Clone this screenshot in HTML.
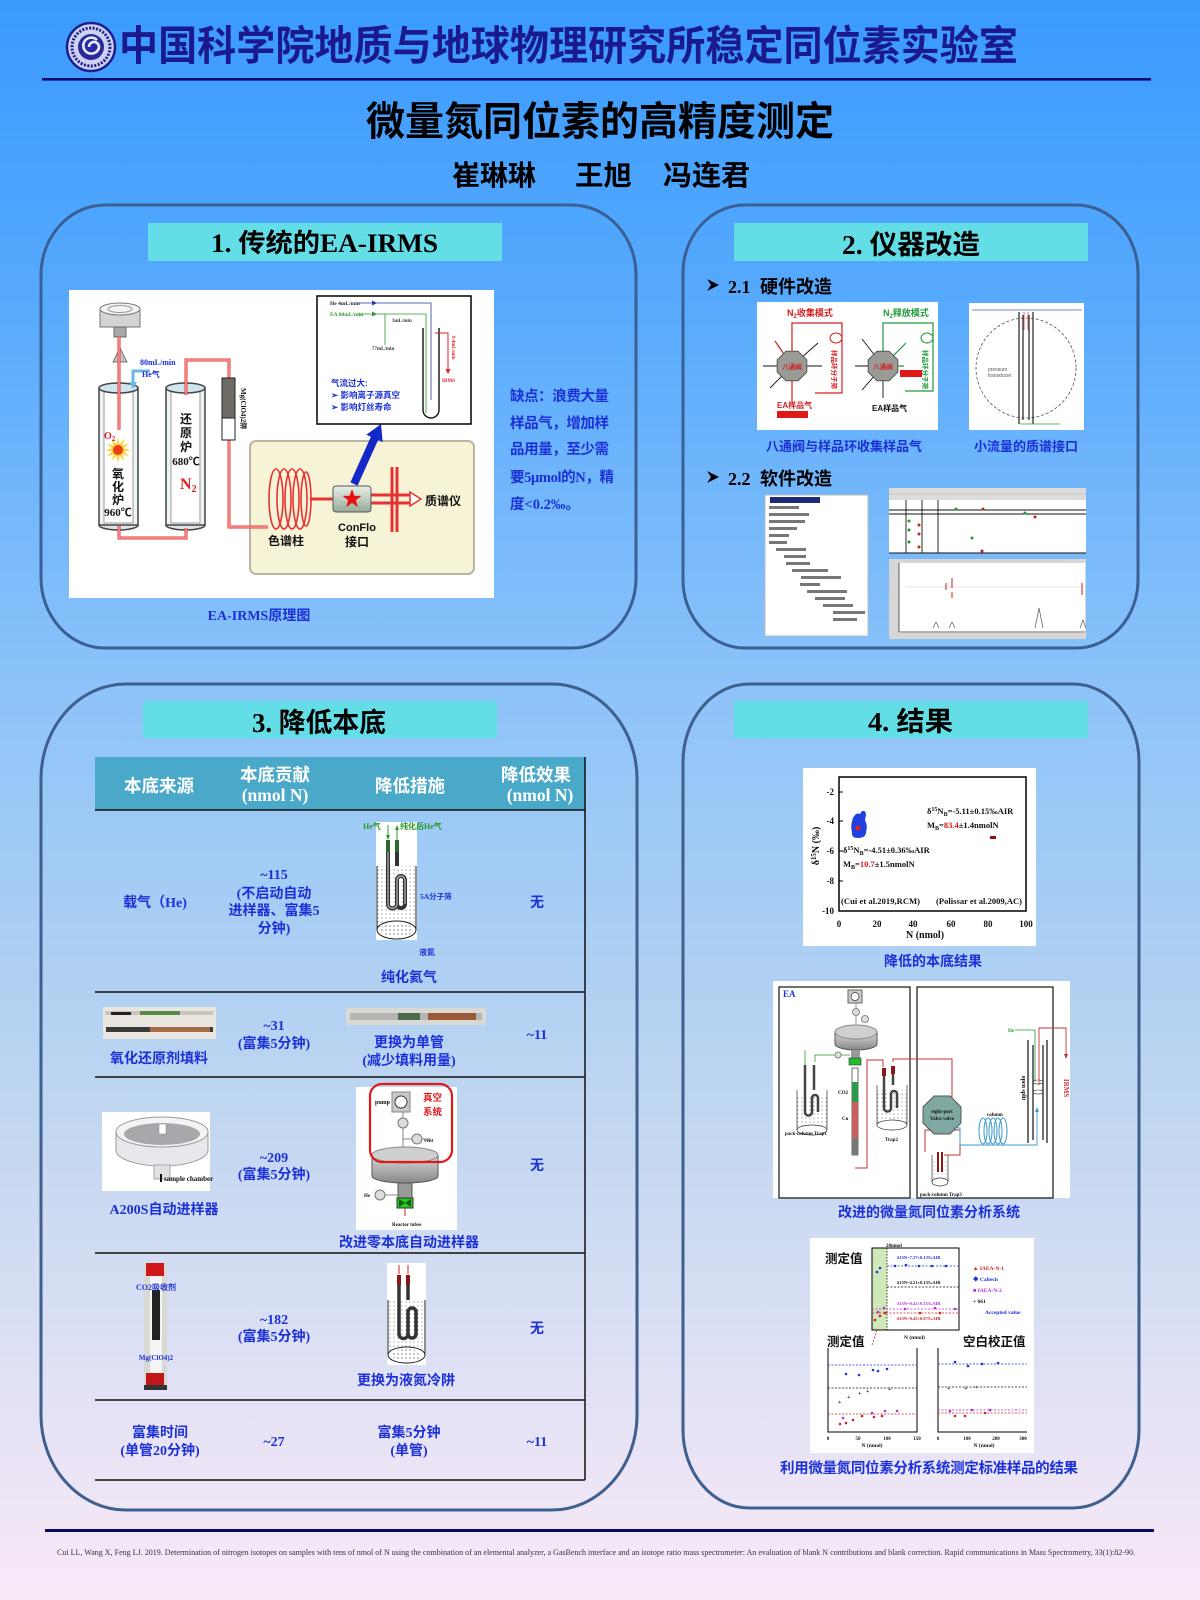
<!DOCTYPE html>
<html><head><meta charset="utf-8">
<style>
html,body{margin:0;padding:0;background:#8fc4f9;}
body{width:1200px;height:1600px;overflow:hidden;}
svg{display:block;}
.cj{font-family:"Liberation Sans","Noto Sans CJK SC",sans-serif;font-weight:700;}
.sr{font-family:"Liberation Serif","Noto Sans CJK SC",serif;font-weight:700;}
.bl{fill:#1c30d8;}
.tb{font-family:"Liberation Serif","Noto Sans CJK SC",serif;font-weight:700;font-size:14px;fill:#1c30d8;text-anchor:middle;}
.th{font-family:"Liberation Serif","Noto Sans CJK SC",serif;font-weight:700;font-size:17.5px;fill:#fff;text-anchor:middle;}
.tiny{font-family:"Liberation Sans",sans-serif;font-size:5px;fill:#555;}
</style></head><body>
<svg width="1200" height="1600" viewBox="0 0 1200 1600" xmlns="http://www.w3.org/2000/svg">
<defs>
<linearGradient id="bg" x1="0" y1="0" x2="0" y2="1">
<stop offset="0" stop-color="#3a9afe"/>
<stop offset="0.19" stop-color="#57aafd"/>
<stop offset="0.44" stop-color="#8fc4f9"/>
<stop offset="0.69" stop-color="#bfd6f0"/>
<stop offset="0.94" stop-color="#efe6f6"/>
<stop offset="1" stop-color="#f9e8f8"/>
</linearGradient>
<linearGradient id="gcf" x1="0" y1="0" x2="0" y2="1">
<stop offset="0" stop-color="#e8efe8"/><stop offset="1" stop-color="#98aa98"/>
</linearGradient>
<linearGradient id="gdisc" x1="0" y1="0" x2="0" y2="1">
<stop offset="0" stop-color="#d8d8d8"/><stop offset="1" stop-color="#888"/>
</linearGradient>
<pattern id="dots" width="4" height="4" patternUnits="userSpaceOnUse"><circle cx="2" cy="2" r="0.6" fill="#333"/></pattern>
</defs>
<rect width="1200" height="1600" fill="url(#bg)"/>

<!-- ===== HEADER ===== -->
<circle cx="91" cy="47" r="24" fill="#cdd2ee" stroke="#1d1d8e" stroke-width="2.5"/>
<circle cx="91" cy="47" r="19" fill="none" stroke="#1d1d8e" stroke-width="3" stroke-dasharray="2 1.5"/>
<circle cx="91" cy="47" r="13" fill="#2a2a9c"/>
<path d="M97,40 A8,8 0 1 0 98,50 A5,5 0 1 0 89,47" fill="none" stroke="#e8ecff" stroke-width="2.6"/>
<text x="119" y="60" class="cj" font-size="41" fill="#1a1a8e" textLength="899" lengthAdjust="spacingAndGlyphs">中国科学院地质与地球物理研究所稳定同位素实验室</text>
<rect x="42" y="78" width="1109" height="2.6" fill="#0c0c6e"/>
<text x="366" y="135" class="cj" font-size="40" fill="#000" textLength="468" lengthAdjust="spacingAndGlyphs">微量氮同位素的高精度测定</text>
<text x="452" y="185" class="cj" font-size="28" fill="#000" textLength="84" lengthAdjust="spacingAndGlyphs">崔琳琳</text>
<text x="575" y="185" class="cj" font-size="28" fill="#000" textLength="57" lengthAdjust="spacingAndGlyphs">王旭</text>
<text x="663" y="185" class="cj" font-size="28" fill="#000" textLength="87" lengthAdjust="spacingAndGlyphs">冯连君</text>

<!-- ===== PANELS ===== -->
<rect x="41" y="205" width="595" height="443" rx="64" ry="70" fill="none" stroke="#3a5f95" stroke-width="3"/>
<rect x="683" y="205" width="455" height="443" rx="62" ry="68" fill="none" stroke="#3a5f95" stroke-width="3"/>
<rect x="41" y="684" width="596" height="826" rx="85" ry="95" fill="none" stroke="#3f5f8f" stroke-width="3"/>
<rect x="683" y="684" width="456" height="824" rx="66" ry="78" fill="none" stroke="#3f5f8f" stroke-width="3"/>

<!-- section bars -->
<rect x="148" y="223" width="354" height="38" fill="#63dde6"/>
<text x="211" y="252" class="sr" font-size="26" fill="#000" textLength="227" lengthAdjust="spacingAndGlyphs">1. 传统的EA-IRMS</text>
<rect x="734" y="223" width="354" height="38" fill="#63dde6"/>
<text x="842" y="254" class="sr" font-size="27" fill="#000" textLength="138" lengthAdjust="spacingAndGlyphs">2. 仪器改造</text>
<rect x="143" y="701" width="354" height="37" fill="#63dde6"/>
<text x="252" y="732" class="sr" font-size="27" fill="#000" textLength="134" lengthAdjust="spacingAndGlyphs">3. 降低本底</text>
<rect x="734" y="701" width="354" height="37" fill="#63dde6"/>
<text x="868" y="731" class="sr" font-size="27" fill="#000" textLength="85" lengthAdjust="spacingAndGlyphs">4. 结果</text>

<!-- ===== PANEL 1: EA-IRMS diagram ===== -->
<rect x="69" y="290" width="425" height="308" fill="#fff"/>
<!-- beige box (drawn first so pipes appear on top) -->
<rect x="250" y="441" width="224" height="133" rx="6" fill="#f7f3d6" stroke="#b8b4a0" stroke-width="2"/>
<!-- autosampler -->
<rect x="100" y="309" width="40" height="18" fill="#d4d4d4" stroke="#777"/>
<ellipse cx="120" cy="309" rx="20" ry="6" fill="#f2f2f2" stroke="#777"/>
<ellipse cx="120" cy="309" rx="12" ry="3.5" fill="none" stroke="#999"/>
<rect x="114" y="327" width="12" height="10" fill="#aaa" stroke="#666"/>
<polygon points="113,362 127,362 120,348" fill="#c4c4c4" stroke="#777"/>
<!-- tubes -->
<ellipse cx="118.5" cy="525" rx="19.5" ry="5" fill="#dde3e8" stroke="#444" stroke-width="1.5"/>
<rect x="99" y="388" width="39" height="137" fill="#eef3f5" stroke="#444" stroke-width="1.5"/>
<rect x="104" y="391" width="29" height="132" fill="#fff" stroke="#999"/>
<ellipse cx="118.5" cy="388" rx="19.5" ry="5" fill="#cfe6ee" stroke="#444" stroke-width="1.5"/>
<ellipse cx="185.5" cy="525" rx="19.5" ry="5" fill="#dde3e8" stroke="#444" stroke-width="1.5"/>
<rect x="166" y="388" width="39" height="137" fill="#eef3f5" stroke="#444" stroke-width="1.5"/>
<rect x="171" y="391" width="29" height="132" fill="#fff" stroke="#999"/>
<ellipse cx="185.5" cy="388" rx="19.5" ry="5" fill="#cfe6ee" stroke="#444" stroke-width="1.5"/>
<!-- red pipes -->
<g fill="none" stroke="#e53333" stroke-width="3">
<path d="M119,337 V430"/>
<path d="M119,526 V538 H186 V528"/>
<path d="M186,395 V360 H229 V378"/>
<path d="M229,440 V527 H268"/>
<path d="M310,499 H333"/>
<path d="M371,495 H410 M371,503 H410 M392,467 V532 M397,467 V532"/>
</g>
<g fill="none" stroke="#ffc8c8" stroke-width="1">
<path d="M119,337 V430"/><path d="M119,526 V538 H186 V528"/><path d="M186,395 V360 H229 V378"/><path d="M229,440 V527 H268"/>
</g>
<polygon points="410,492 421,499 410,506" fill="#fff" stroke="#e53333" stroke-width="1.5"/>
<!-- He inlet -->
<path d="M150,371 H133 V384" fill="none" stroke="#6cb8e8" stroke-width="3"/>
<polygon points="129,382 137,382 133,389" fill="#6cb8e8"/>
<text x="140" y="365" class="sr" font-size="8" fill="#1c30d8">80mL/min</text>
<text x="142" y="377" class="sr" font-size="8" fill="#1c30d8">He气</text>
<!-- explosion -->
<polygon points="131,450 123.8,451.6 129.3,456.5 122.2,454.2 124.5,461.3 119.6,455.8 118,463 116.4,455.8 111.5,461.3 113.8,454.2 106.7,456.5 112.2,451.6 105,450 112.2,448.4 106.7,443.5 113.8,445.8 111.5,438.7 116.4,444.2 118,437 119.6,444.2 124.5,438.7 122.2,445.8 129.3,443.5 123.8,448.4" fill="#ffd23a"/>
<circle cx="118" cy="450" r="5" fill="#e8401c"/>
<text x="104" y="439" class="sr" font-size="10" fill="#e02020">O<tspan font-size="7" dy="2">2</tspan></text>
<g class="cj" font-size="12" fill="#111" text-anchor="middle">
<text x="118" y="478">氧</text><text x="118" y="491">化</text><text x="118" y="504">炉</text>
<text x="186" y="423">还</text><text x="186" y="437">原</text><text x="186" y="451">炉</text>
</g>
<text x="118" y="516" class="sr" font-size="11" fill="#111" text-anchor="middle">960℃</text>
<text x="186" y="465" class="sr" font-size="11" fill="#111" text-anchor="middle">680℃</text>
<text x="180" y="489" class="sr" font-size="16" fill="#e02020">N<tspan font-size="10" dy="3">2</tspan></text>
<!-- water trap -->
<rect x="222" y="378" width="13" height="40" fill="#6e6a64" stroke="#222"/>
<rect x="222" y="418" width="13" height="22" fill="#fff" stroke="#222"/>
<text transform="translate(241,388) rotate(90)" class="sr" font-size="7" fill="#111">Mg(ClO4)2阱</text>
<!-- coil -->
<g fill="none" stroke="#e53333" stroke-width="1.6">
<ellipse cx="276" cy="499" rx="7" ry="30"/><ellipse cx="284" cy="499" rx="7" ry="30"/>
<ellipse cx="292" cy="499" rx="7" ry="30"/><ellipse cx="300" cy="499" rx="7" ry="30"/>
<ellipse cx="306" cy="499" rx="5" ry="27"/>
</g>
<rect x="333" y="486" width="38" height="26" rx="3" fill="url(#gcf)" stroke="#555"/>
<polygon points="352,489 354.4,495.8 361.5,495.9 355.8,500.2 357.9,507.1 352,503 346.1,507.1 348.2,500.2 342.5,495.9 349.6,495.8" fill="#e81010"/>
<text x="425" y="505" class="cj" font-size="12" fill="#111">质谱仪</text>
<text x="286" y="545" class="cj" font-size="12" fill="#111" text-anchor="middle">色谱柱</text>
<text x="357" y="531" class="cj" font-size="11" fill="#111" text-anchor="middle">ConFlo</text>
<text x="357" y="546" class="cj" font-size="12" fill="#111" text-anchor="middle">接口</text>
<polygon points="350.4,482.4 357.6,485.6 378.1,440 382.7,442.1 381,424 366.3,434.7 370.9,436.8" fill="#1428c8"/>
<!-- inset -->
<rect x="317" y="296" width="154" height="128" fill="#fff" stroke="#000" stroke-width="1.5"/>
<text x="330" y="305" class="sr" font-size="5.5" fill="#223">He 4mL/min</text>
<path d="M358,303 H431 V400" fill="none" stroke="#2a3a9a" stroke-width="0.8"/>
<polygon points="372,300.5 377,303 372,305.5" fill="#2a3a9a"/>
<text x="330" y="316" class="sr" font-size="5.5" fill="#2a9a2a">EA 80mL/min</text>
<path d="M358,314 H426 V413 M385,314 V345" fill="none" stroke="#2a9a2a" stroke-width="0.8"/>
<polygon points="372,311.5 377,314 372,316.5" fill="#2a9a2a"/>
<text x="392" y="322" class="sr" font-size="5" fill="#333">3mL/min</text>
<text x="372" y="350" class="sr" font-size="5" fill="#333">77mL/min</text>
<path d="M423,328 V410 A8,8 0 0 0 439,410 V328" fill="none" stroke="#111" stroke-width="1.4"/>
<path d="M435,333 H448 V372" fill="none" stroke="#d22" stroke-width="1"/>
<polygon points="445.5,369 450.5,369 448,374" fill="#d22"/>
<text x="442" y="382" class="sr" font-size="5" fill="#d22">IRMS</text>
<text transform="translate(452,336) rotate(90)" class="sr" font-size="5" fill="#d22">0.4mL/min</text>
<text x="331" y="386" class="cj" font-size="8.5" fill="#1c30d8">气流过大:</text>
<text x="331" y="398" class="cj" font-size="8.5" fill="#1c30d8">➢ 影响离子源真空</text>
<text x="331" y="410" class="cj" font-size="8.5" fill="#1c30d8">➢ 影响灯丝寿命</text>
<text x="259" y="620" class="sr bl" font-size="14" text-anchor="middle">EA-IRMS原理图</text>
<g class="sr bl" font-size="14.5">
<text x="510" y="401" textLength="99">缺点：浪费大量</text>
<text x="510" y="428" textLength="99">样品气，增加样</text>
<text x="510" y="454" textLength="99">品用量，至少需</text>
<text x="510" y="482" textLength="104">要5μmol的N，精</text>
<text x="510" y="509">度&lt;0.2‰。</text>
</g>

<!-- ===== PANEL 2 ===== -->
<polygon points="707,279 719,285 707,291 711,285" fill="#000"/>
<text x="728" y="293" class="sr" font-size="18" fill="#000">2.1</text>
<text x="760" y="293" class="cj" font-size="18" fill="#000" textLength="72">硬件改造</text>
<polygon points="707,471 719,477 707,483 711,477" fill="#000"/>
<text x="728" y="485" class="sr" font-size="18" fill="#000">2.2</text>
<text x="760" y="485" class="cj" font-size="18" fill="#000" textLength="72">软件改造</text>

<!-- image: 8-port valve -->
<rect x="757" y="302" width="181" height="128" fill="#fff"/>
<text x="787" y="316" class="cj" font-size="9" fill="#d42020">N<tspan font-size="6" dy="2">2</tspan><tspan dy="-2">收集模式</tspan></text>
<text x="883" y="316" class="cj" font-size="9" fill="#1e9a3a">N<tspan font-size="6" dy="2">2</tspan><tspan dy="-2">释放模式</tspan></text>
<g stroke="#111" stroke-width="0.9">
<line x1="792" y1="366" x2="763" y2="366"/><line x1="792" y1="366" x2="818" y2="343"/><line x1="792" y1="366" x2="822" y2="366"/><line x1="792" y1="366" x2="770" y2="388"/>
<line x1="883" y1="366" x2="855" y2="366"/><line x1="883" y1="366" x2="862" y2="339"/><line x1="883" y1="366" x2="862" y2="390"/><line x1="883" y1="366" x2="883" y2="398"/>
</g>
<g fill="none" stroke="#d42020" stroke-width="1.2">
<path d="M792,351 V323 H842 V393 H815"/><path d="M792,366 L775,341"/><path d="M792,381 V405"/>
</g>
<g fill="none" stroke="#1e9a3a" stroke-width="1.2">
<path d="M883,351 V323 H933 V391 H905"/><path d="M883,366 L906,343"/><path d="M883,366 L904,366"/>
</g>
<polygon points="806.8,372.1 798.1,380.8 785.9,380.8 777.2,372.1 777.2,359.9 785.9,351.2 798.1,351.2 806.8,359.9" fill="#9a9a96" stroke="#555"/>
<polygon points="897.8,372.1 889.1,380.8 876.9,380.8 868.2,372.1 868.2,359.9 876.9,351.2 889.1,351.2 897.8,359.9" fill="#9a9a96" stroke="#555"/>
<text x="792" y="369" class="cj" font-size="6.5" fill="#d42020" text-anchor="middle">八通阀</text>
<text x="883" y="369" class="cj" font-size="6.5" fill="#d42020" text-anchor="middle">八通阀</text>
<ellipse cx="836" cy="338" rx="6" ry="5" fill="none" stroke="#d42020"/>
<ellipse cx="927" cy="338" rx="6" ry="5" fill="none" stroke="#1e9a3a"/>
<text transform="translate(832,350) rotate(90)" class="cj" font-size="6.5" fill="#d42020">样品环分子筛</text>
<text transform="translate(923,350) rotate(90)" class="cj" font-size="6.5" fill="#1e9a3a">样品环分子筛</text>
<rect x="900" y="370" width="22" height="7" fill="#e01818"/>
<text x="777" y="408" class="cj" font-size="8" fill="#d42020">EA样品气</text>
<rect x="777" y="411" width="31" height="7" fill="#e01818"/>
<text x="872" y="411" class="cj" font-size="8" fill="#111">EA样品气</text>
<!-- image: interface -->
<rect x="969" y="303" width="115" height="127" fill="#fff"/>
<circle cx="1026" cy="368" r="50" fill="none" stroke="#555" stroke-dasharray="3 2" stroke-width="0.8"/>
<line x1="972" y1="310" x2="1082" y2="310" stroke="#4a5ad0" stroke-width="0.8"/>
<g stroke="#222" stroke-width="1.2"><line x1="1019" y1="312" x2="1019" y2="424"/><line x1="1023" y1="315" x2="1023" y2="420"/><line x1="1029" y1="315" x2="1029" y2="420"/><line x1="1033" y1="312" x2="1033" y2="424"/></g>
<path d="M1024,312 V330 M1028,312 V330" stroke="#d44" stroke-width="0.8"/>
<line x1="1020" y1="424" x2="1060" y2="424" stroke="#2a9a2a" stroke-width="0.8"/>
<text x="988" y="371" class="tiny" fill="#c33">pressure</text>
<text x="988" y="377" class="tiny" fill="#c33">transducer</text>
<text x="844" y="451" class="cj bl" font-size="13" text-anchor="middle">八通阀与样品环收集样品气</text>
<text x="1026" y="451" class="cj bl" font-size="13" text-anchor="middle">小流量的质谱接口</text>
<!-- software tree -->
<rect x="765" y="495" width="103" height="141" fill="#fff" stroke="#bbb"/>
<rect x="770" y="497" width="50" height="6" fill="#1e2a78"/>
<g fill="#777">
<rect x="769" y="506" width="30" height="3"/><rect x="769" y="513" width="40" height="3"/><rect x="769" y="520" width="36" height="3"/><rect x="769" y="527" width="28" height="3"/><rect x="769" y="534" width="20" height="3"/><rect x="769" y="541" width="18" height="3"/>
<rect x="776" y="548" width="30" height="3"/><rect x="784" y="555" width="22" height="3"/><rect x="786" y="562" width="24" height="3"/><rect x="792" y="569" width="36" height="3"/><rect x="801" y="576" width="40" height="3"/><rect x="800" y="583" width="20" height="3"/><rect x="807" y="590" width="40" height="3"/><rect x="815" y="597" width="30" height="3"/><rect x="823" y="604" width="30" height="3"/><rect x="833" y="611" width="32" height="3"/><rect x="833" y="618" width="24" height="3"/>
</g>
<!-- chart 1 -->
<rect x="889" y="488" width="197" height="65" fill="#fff"/>
<rect x="889" y="488" width="197" height="12" fill="#dcdcdc"/>
<line x1="889" y1="494" x2="1086" y2="494" stroke="#aaa" stroke-width="0.6"/>
<g stroke="#111" stroke-width="0.9"><line x1="889" y1="510" x2="1086" y2="510"/><line x1="889" y1="514" x2="1086" y2="514"/><line x1="906" y1="500" x2="906" y2="553"/><line x1="922" y1="500" x2="922" y2="553"/><line x1="938" y1="500" x2="938" y2="553"/><line x1="889" y1="553" x2="1086" y2="553"/></g>
<g fill="#1e9a3a"><circle cx="956" cy="509" r="1.5"/><circle cx="1025" cy="513" r="1.5"/><circle cx="909" cy="521" r="1.5"/><circle cx="909" cy="530" r="1.5"/><circle cx="909" cy="542" r="1.5"/><circle cx="972" cy="538" r="1.5"/></g>
<g fill="#c02020"><circle cx="983" cy="509" r="1.5"/><circle cx="1035" cy="517" r="1.5"/><circle cx="919" cy="525" r="1.5"/><circle cx="919" cy="534" r="1.5"/><circle cx="919" cy="547" r="1.5"/><circle cx="982" cy="551" r="1.5"/></g>
<!-- chart 2 -->
<rect x="889" y="559" width="197" height="80" fill="#d6d6d6"/>
<rect x="899" y="563" width="186" height="70" fill="#fff"/>
<line x1="899" y1="632" x2="1085" y2="632" stroke="#333" stroke-width="0.8"/>
<line x1="899" y1="563" x2="899" y2="632" stroke="#333" stroke-width="0.8"/>
<line x1="905" y1="587" x2="1084" y2="587" stroke="#f0b8b8" stroke-width="0.6"/>
<g stroke="#c02020" stroke-width="1"><line x1="946" y1="583" x2="946" y2="590"/><line x1="952" y1="578" x2="952" y2="588"/><line x1="952" y1="592" x2="952" y2="598"/><line x1="1082" y1="583" x2="1082" y2="595"/></g>
<path d="M1035,628 L1039,608 L1043,628" fill="none" stroke="#555" stroke-width="0.7"/>
<path d="M933,628 L936,622 L939,628 M949,628 L952,622 L955,628 M1080,628 L1083,620 L1086,628" fill="none" stroke="#555" stroke-width="0.7"/>

<!-- ===== PANEL 3: TABLE ===== -->
<rect x="95" y="757" width="490" height="53" fill="#4aa9c9"/>
<text x="159" y="792" class="th">本底来源</text>
<text x="275" y="781" class="th">本底贡献</text>
<text x="275" y="801" class="th">(nmol N)</text>
<text x="410" y="792" class="th">降低措施</text>
<text x="536" y="781" class="th">降低效果</text>
<text x="540" y="801" class="th">(nmol N)</text>
<g stroke="#111" stroke-width="1.5">
<line x1="95" y1="810" x2="585" y2="810"/><line x1="95" y1="992" x2="585" y2="992"/><line x1="95" y1="1077" x2="585" y2="1077"/>
<line x1="95" y1="1253" x2="585" y2="1253"/><line x1="95" y1="1400" x2="585" y2="1400"/><line x1="95" y1="1480" x2="585" y2="1480"/>
<line x1="585" y1="757" x2="585" y2="1480"/>
</g>
<!-- row 1 -->
<text x="155" y="907" class="tb">载气（He)</text>
<text x="274" y="879" class="tb">~115</text>
<text x="274" y="898" class="tb">(不启动自动</text>
<text x="274" y="915" class="tb">进样器、富集5</text>
<text x="274" y="933" class="tb">分钟)</text>
<text x="537" y="907" class="tb">无</text>
<rect x="376" y="822" width="41" height="118" fill="#fff"/>
<rect x="377" y="866" width="39" height="64" fill="url(#dots)" opacity="0.6"/>
<line x1="377" y1="866" x2="377" y2="930" stroke="#222"/><line x1="416" y1="866" x2="416" y2="930" stroke="#222"/>
<ellipse cx="396.5" cy="930" rx="19.5" ry="9" fill="#fff" stroke="#222"/>
<ellipse cx="396.5" cy="930" rx="17" ry="7" fill="url(#dots)"/>
<path d="M388,842 V904 A4.5,4.5 0 0 0 397,904 V880 A4,4 0 0 1 405,880 V904 A4,4 0 0 1 397,904 M397,842 V866" fill="none" stroke="#333" stroke-width="4"/>
<path d="M388,842 V904 A4.5,4.5 0 0 0 397,904 V880 A4,4 0 0 1 405,880 V904" fill="none" stroke="#bbb" stroke-width="1.2"/>
<rect x="386" y="840" width="4" height="12" fill="#2a6a2a"/><rect x="395" y="840" width="4" height="12" fill="#2a6a2a"/>
<line x1="388" y1="825" x2="388" y2="838" stroke="#2a9a2a"/><polygon points="386,835 390,835 388,840" fill="#2a9a2a"/>
<line x1="397" y1="840" x2="397" y2="828" stroke="#2a9a2a"/><polygon points="395,830 399,830 397,825" fill="#2a9a2a"/>
<text x="363" y="829" class="sr" font-size="8" fill="#2a9a2a">He气</text>
<text x="400" y="829" class="sr" font-size="8" fill="#2a9a2a">纯化后He气</text>
<text x="420" y="899" class="sr" font-size="7.5" fill="#1c30d8">5A分子筛</text>
<text x="419" y="955" class="sr" font-size="8" fill="#1c30d8">液氮</text>
<text x="409" y="982" class="tb">纯化氦气</text>
<!-- row 2 -->
<rect x="103" y="1007" width="113" height="32" fill="#e9e6df"/>
<rect x="105" y="1011" width="108" height="4" fill="#c8c4bc"/>
<rect x="111" y="1012" width="20" height="3" fill="#222"/><rect x="140" y="1011" width="40" height="4" fill="#5a8a4a"/>
<rect x="106" y="1027" width="107" height="5" fill="#3a3a38"/><rect x="150" y="1027" width="60" height="5" fill="#a46a4a"/>
<text x="159" y="1063" class="tb">氧化还原剂填料</text>
<text x="274" y="1030" class="tb">~31</text>
<text x="274" y="1048" class="tb">(富集5分钟)</text>
<rect x="346" y="1008" width="140" height="17" fill="#d8d8d4"/>
<rect x="350" y="1013" width="132" height="7" fill="#b4b4b0"/>
<rect x="398" y="1013" width="22" height="7" fill="#4a6a4a"/><rect x="428" y="1013" width="48" height="7" fill="#9a5a3a"/>
<text x="409" y="1047" class="tb">更换为单管</text>
<text x="409" y="1065" class="tb">(减少填料用量)</text>
<text x="537" y="1039" class="tb">~11</text>
<!-- row 3 -->
<rect x="102" y="1112" width="108" height="79" fill="#fff"/>
<path d="M116,1132 V1150 A46,16 0 0 0 208,1150 V1132" fill="#e8e8ec" stroke="#999"/>
<ellipse cx="162" cy="1132" rx="46" ry="15" fill="#f4f4f6" stroke="#999"/>
<ellipse cx="162" cy="1134" rx="38" ry="11" fill="#a8a8ac"/>
<rect x="159" y="1124" width="7" height="10" fill="#fff" stroke="#888" stroke-width="0.5"/>
<rect x="154" y="1165" width="16" height="14" fill="#e0e0e4" stroke="#aaa"/>
<rect x="160" y="1174" width="2" height="8" fill="#111"/>
<text x="164" y="1181" class="sr" font-size="7" fill="#111">sample chamber</text>
<text x="164" y="1214" class="tb">A200S自动进样器</text>
<text x="274" y="1162" class="tb">~209</text>
<text x="274" y="1179" class="tb">(富集5分钟)</text>
<text x="537" y="1170" class="tb">无</text>
<rect x="356" y="1087" width="101" height="143" fill="#fff"/>
<rect x="392" y="1092" width="18" height="20" fill="#c8c8c8" stroke="#888"/>
<circle cx="401" cy="1102" r="6" fill="#fff" stroke="#333"/>
<text x="375" y="1104" class="sr" font-size="6" fill="#111">pump</text>
<line x1="403" y1="1112" x2="403" y2="1155" stroke="#888"/>
<line x1="403" y1="1139" x2="430" y2="1139" stroke="#888"/>
<circle cx="403" cy="1123" r="5" fill="#ddd" stroke="#777"/><circle cx="417" cy="1139" r="5" fill="#ddd" stroke="#777"/>
<text x="424" y="1142" class="sr" font-size="5" fill="#111">vent</text>
<path d="M372,1155 V1176 A33,7 0 0 0 438,1176 V1155" fill="url(#gdisc)" stroke="#555"/>
<ellipse cx="405" cy="1155" rx="33" ry="8" fill="#cfcfcf" stroke="#888"/>
<rect x="398" y="1183" width="14" height="15" fill="#999" stroke="#555"/>
<rect x="397" y="1198" width="16" height="10" fill="#22cc22" stroke="#333"/>
<polygon points="399,1199 411,1207 411,1199 399,1207" fill="#111" opacity="0.6"/>
<line x1="405" y1="1208" x2="405" y2="1216" stroke="#d22"/>
<circle cx="380" cy="1195" r="5" fill="#ddd" stroke="#777"/>
<line x1="385" y1="1195" x2="398" y2="1195" stroke="#888"/>
<text x="364" y="1197" class="sr" font-size="5" fill="#111">He</text>
<text x="392" y="1226" class="sr" font-size="5" fill="#111">Reactor tubes</text>
<rect x="370" y="1084" width="82" height="78" rx="12" fill="none" stroke="#e01818" stroke-width="2.2"/>
<text x="423" y="1101" class="cj" font-size="9.5" fill="#e01818">真空</text>
<text x="423" y="1115" class="cj" font-size="9.5" fill="#e01818">系统</text>
<text x="409" y="1247" class="tb">改进零本底自动进样器</text>
<!-- row 4 -->
<rect x="144" y="1263" width="23" height="127" fill="#d8d8d4"/>
<rect x="150" y="1270" width="12" height="110" fill="#f4f4f4"/>
<rect x="152" y="1290" width="8" height="50" fill="#222"/>
<rect x="146" y="1263" width="18" height="13" fill="#d01818"/>
<rect x="146" y="1373" width="18" height="12" fill="#c01818"/>
<rect x="144" y="1385" width="23" height="5" fill="#333"/>
<text x="156" y="1290" class="sr" font-size="8" fill="#1c30d8" text-anchor="middle">CO2吸收剂</text>
<text x="156" y="1360" class="sr" font-size="7" fill="#1c30d8" text-anchor="middle">Mg(ClO4)2</text>
<text x="274" y="1324" class="tb">~182</text>
<text x="274" y="1341" class="tb">(富集5分钟)</text>
<text x="537" y="1333" class="tb">无</text>
<rect x="387" y="1263" width="39" height="102" fill="#fff"/>
<rect x="388" y="1300" width="37" height="55" fill="url(#dots)" opacity="0.6"/>
<line x1="388" y1="1300" x2="388" y2="1355" stroke="#222"/><line x1="425" y1="1300" x2="425" y2="1355" stroke="#222"/>
<ellipse cx="406.5" cy="1355" rx="18.5" ry="8" fill="#fff" stroke="#222"/>
<ellipse cx="406.5" cy="1355" rx="15" ry="6" fill="url(#dots)"/>
<path d="M399,1276 V1334 A4.5,4.5 0 0 0 408,1334 V1312 A4,4 0 0 1 416,1312 V1334 A4,4 0 0 1 408,1334 M408,1276 V1300" fill="none" stroke="#333" stroke-width="3.5"/>
<rect x="397" y="1275" width="4" height="10" fill="#8a1818"/><rect x="406" y="1275" width="4" height="10" fill="#8a1818"/>
<line x1="399" y1="1265" x2="399" y2="1274" stroke="#d22"/><line x1="408" y1="1274" x2="408" y2="1265" stroke="#d22"/>
<text x="406" y="1385" class="tb">更换为液氮冷阱</text>
<!-- row 5 -->
<text x="160" y="1437" class="tb">富集时间</text>
<text x="160" y="1455" class="tb">(单管20分钟)</text>
<text x="274" y="1446" class="tb">~27</text>
<text x="409" y="1437" class="tb">富集5分钟</text>
<text x="409" y="1455" class="tb">(单管)</text>
<text x="537" y="1446" class="tb">~11</text>

<!-- ===== PANEL 4 ===== -->
<!-- chart 1 -->
<rect x="803" y="768" width="233" height="178" fill="#fff"/>
<rect x="839" y="777" width="187" height="134" fill="none" stroke="#000" stroke-width="1.5"/>
<g class="sr" font-size="9" fill="#111" text-anchor="end">
<text x="834" y="795">-2</text><text x="834" y="824">-4</text><text x="834" y="854">-6</text><text x="834" y="884">-8</text><text x="834" y="914">-10</text>
</g>
<g stroke="#000" stroke-width="1"><line x1="839" y1="792" x2="843" y2="792"/><line x1="839" y1="821" x2="843" y2="821"/><line x1="839" y1="851" x2="843" y2="851"/><line x1="839" y1="881" x2="843" y2="881"/></g>
<g class="sr" font-size="9" fill="#111" text-anchor="middle">
<text x="839" y="927">0</text><text x="877" y="927">20</text><text x="913" y="927">40</text><text x="951" y="927">60</text><text x="988" y="927">80</text><text x="1026" y="927">100</text>
</g>
<text x="925" y="938" class="sr" font-size="10" fill="#111" text-anchor="middle">N (nmol)</text>
<text transform="translate(819,846) rotate(-90)" class="sr" font-size="10" fill="#111" text-anchor="middle">δ<tspan font-size="7" dy="-3">15</tspan><tspan dy="3">N (‰)</tspan></text>
<path d="M853,818 Q856,812 860,814 L862,811 Q866,810 866,815 L865,820 Q868,826 866,832 Q866,838 858,838 Q851,838 852,832 Q850,826 853,818 Z" fill="#2040e0"/>
<circle cx="858" cy="828" r="2.5" fill="#e02020"/>
<rect x="990" y="836" width="6" height="3" fill="#8a1010"/>
<g class="sr" font-size="8.5" fill="#111">
<text x="927" y="814">δ<tspan font-size="6" dy="-3">15</tspan><tspan dy="3">N</tspan><tspan font-size="6" dy="2">B</tspan><tspan dy="-2">=-5.11±0.15‰AIR</tspan></text>
<text x="927" y="828">M<tspan font-size="6" dy="2">B</tspan><tspan dy="-2">=</tspan><tspan fill="#d01818">83.4</tspan>±1.4nmolN</text>
<text x="843" y="853">δ<tspan font-size="6" dy="-3">15</tspan><tspan dy="3">N</tspan><tspan font-size="6" dy="2">B</tspan><tspan dy="-2">=-4.51±0.36‰AIR</tspan></text>
<text x="843" y="867">M<tspan font-size="6" dy="2">B</tspan><tspan dy="-2">=</tspan><tspan fill="#d01818">10.7</tspan>±1.5nmolN</text>
<text x="841" y="904" textLength="79">(Cui et al.2019,RCM)</text>
<text x="936" y="904" textLength="86">(Polissar et al.2009,AC)</text>
</g>
<text x="933" y="966" class="cj bl" font-size="14" text-anchor="middle">降低的本底结果</text>
<!-- diagram 2 -->
<rect x="773" y="981" width="297" height="217" fill="#fff"/>
<rect x="779" y="987" width="131" height="211" fill="none" stroke="#111" stroke-width="1.2"/>
<rect x="917" y="987" width="136" height="211" fill="none" stroke="#111" stroke-width="1.2"/>
<text x="783" y="997" class="sr" font-size="9" fill="#1c30d8">EA</text>
<rect x="848" y="990" width="14" height="13" fill="#ccc" stroke="#666"/>
<circle cx="855" cy="996.5" r="4" fill="#fff" stroke="#333" stroke-width="0.7"/>
<line x1="856" y1="1003" x2="856" y2="1030" stroke="#999"/>
<circle cx="856" cy="1012" r="3.5" fill="#ddd" stroke="#888"/><circle cx="865" cy="1019" r="3.5" fill="#ddd" stroke="#888"/>
<path d="M835,1032 V1044 A21,6 0 0 0 877,1044 V1032" fill="url(#gdisc)" stroke="#555"/>
<ellipse cx="856" cy="1032" rx="21" ry="7" fill="#cfcfcf" stroke="#888"/>
<rect x="851" y="1050" width="9" height="8" fill="#999"/>
<rect x="849" y="1058" width="12" height="7" fill="#22bb33" stroke="#333" stroke-width="0.6"/>
<rect x="852" y="1068" width="6" height="87" fill="#fff" stroke="#333" stroke-width="0.7"/>
<rect x="852" y="1082" width="6" height="20" fill="#2a9a4a"/>
<rect x="852" y="1102" width="6" height="36" fill="#c86060"/>
<rect x="852" y="1138" width="6" height="17" fill="#777"/>
<path d="M850,1055 H815 V1062 M805,1050 V1065" fill="none" stroke="#2a9a2a" stroke-width="0.8"/>
<circle cx="838" cy="1055" r="3" fill="#ddd" stroke="#888"/>
<g fill="none" stroke="#c83030" stroke-width="1"><path d="M855,1168 H867 V1060 H883 V1067"/><path d="M893,1062 V1059 H952 V1100"/></g>
<!-- traps -->
<g>
<rect x="797" y="1095" width="30" height="35" fill="url(#dots)" opacity="0.6"/>
<line x1="797" y1="1090" x2="797" y2="1130" stroke="#333" stroke-width="0.7"/><line x1="827" y1="1090" x2="827" y2="1130" stroke="#333" stroke-width="0.7"/>
<ellipse cx="812" cy="1130" rx="15" ry="5" fill="#fff" stroke="#333" stroke-width="0.7"/>
<path d="M805,1065 V1112 A3.5,3.5 0 0 0 812,1112 V1098 A3,3 0 0 1 818,1098 V1112 M814,1065 V1090" fill="none" stroke="#444" stroke-width="2.5"/>
<rect x="877" y="1090" width="30" height="35" fill="url(#dots)" opacity="0.6"/>
<line x1="877" y1="1085" x2="877" y2="1125" stroke="#333" stroke-width="0.7"/><line x1="907" y1="1085" x2="907" y2="1125" stroke="#333" stroke-width="0.7"/>
<ellipse cx="892" cy="1125" rx="15" ry="5" fill="#fff" stroke="#333" stroke-width="0.7"/>
<path d="M884,1068 V1108 A3.5,3.5 0 0 0 891,1108 V1094 A3,3 0 0 1 897,1094 V1108 M893,1068 V1085" fill="none" stroke="#444" stroke-width="2.5"/>
<rect x="882" y="1068" width="4" height="8" fill="#8a1818"/><rect x="891" y="1066" width="4" height="8" fill="#8a1818"/>
</g>
<text x="785" y="1135" class="sr" font-size="5" fill="#111">pack-column Trap1</text>
<text x="838" y="1094" class="sr" font-size="5" fill="#111">CO2</text>
<text x="842" y="1120" class="sr" font-size="5" fill="#111">Cu</text>
<text x="885" y="1141" class="sr" font-size="5" fill="#111">Trap2</text>
<!-- right box -->
<path d="M942,1130 H925 V1152 M950,1130 H960 V1155 H944" fill="none" stroke="#c83030" stroke-width="1"/>
<polygon points="961,1123 950,1134 934,1134 923,1123 923,1107 934,1096 950,1096 961,1107" fill="#7fa8a0" stroke="#555"/>
<text x="942" y="1113" class="sr" font-size="5" fill="#111" text-anchor="middle">eight-port</text>
<text x="942" y="1120" class="sr" font-size="5" fill="#111" text-anchor="middle">Valco valve</text>
<path d="M953,1128 H960 V1145 H1037 V1110" fill="none" stroke="#3a9ad0" stroke-width="0.9"/>
<polygon points="1035,1112 1039,1112 1037,1107" fill="#3a9ad0"/>
<g fill="none" stroke="#3a9ad0" stroke-width="1"><ellipse cx="983" cy="1131" rx="4" ry="13"/><ellipse cx="988" cy="1131" rx="4" ry="13"/><ellipse cx="993" cy="1131" rx="4" ry="13"/><ellipse cx="998" cy="1131" rx="4" ry="13"/><ellipse cx="1003" cy="1131" rx="4" ry="13"/></g>
<text x="987" y="1116" class="sr" font-size="5" fill="#111">column</text>
<g stroke="#222" stroke-width="1.3"><line x1="1028" y1="1040" x2="1028" y2="1143"/><line x1="1033" y1="1045" x2="1033" y2="1140"/><line x1="1043" y1="1045" x2="1043" y2="1140"/><line x1="1047" y1="1040" x2="1047" y2="1143"/></g>
<ellipse cx="1038" cy="1082" rx="5" ry="2" fill="none" stroke="#333" stroke-width="0.6"/><ellipse cx="1038" cy="1092" rx="5" ry="2" fill="none" stroke="#333" stroke-width="0.6"/>
<text transform="translate(1022,1088) rotate(90)" class="sr" font-size="6" fill="#111" text-anchor="middle">open split</text>
<path d="M1015,1030 H1035 V1082" fill="none" stroke="#2a9a2a" stroke-width="0.8"/>
<text x="1008" y="1032" class="sr" font-size="5" fill="#2a9a2a">He</text>
<path d="M1039,1085 V1028 H1066 V1056" fill="none" stroke="#c83030" stroke-width="0.9"/>
<polygon points="1064,1054 1068,1054 1066,1059" fill="#c83030"/>
<text transform="translate(1064,1088) rotate(90)" class="sr" font-size="7" fill="#c83030" text-anchor="middle">IRMS</text>
<rect x="932" y="1160" width="16" height="22" fill="url(#dots)" opacity="0.5"/>
<line x1="932" y1="1155" x2="932" y2="1182" stroke="#333" stroke-width="0.7"/><line x1="948" y1="1155" x2="948" y2="1182" stroke="#333" stroke-width="0.7"/>
<ellipse cx="940" cy="1182" rx="8" ry="4" fill="#fff" stroke="#333" stroke-width="0.7"/>
<path d="M938,1152 V1172 M942,1152 V1172" stroke="#8a1818" stroke-width="2"/>
<text x="920" y="1196" class="sr" font-size="5" fill="#111">pack-column Trap3</text>
<text x="929" y="1217" class="cj bl" font-size="14" text-anchor="middle">改进的微量氮同位素分析系统</text>
<!-- chart 3 -->
<rect x="810" y="1238" width="224" height="215" fill="#fff"/>
<rect x="872" y="1248" width="15" height="82" fill="#cfe8b8"/>
<rect x="872" y="1248" width="87" height="82" fill="none" stroke="#000" stroke-width="1"/>
<line x1="887" y1="1248" x2="887" y2="1330" stroke="#111" stroke-dasharray="1.5 1.5" stroke-width="0.8"/>
<line x1="887" y1="1266" x2="959" y2="1266" stroke="#1c30d8" stroke-dasharray="2 1.5" stroke-width="0.8"/>
<line x1="887" y1="1287" x2="959" y2="1287" stroke="#111" stroke-dasharray="2 1.5" stroke-width="0.8"/>
<line x1="872" y1="1309" x2="959" y2="1309" stroke="#b030d0" stroke-dasharray="2 1.5" stroke-width="0.8"/>
<line x1="872" y1="1313" x2="959" y2="1313" stroke="#d02020" stroke-dasharray="2 1.5" stroke-width="0.8"/>
<text x="825" y="1263" class="cj" font-size="12.5" fill="#111">测定值</text>
<text x="886" y="1247" class="sr" font-size="5" fill="#111">20nmol</text>
<g class="sr" font-size="4.5" fill="#1c30d8"><text x="897" y="1259">δ15N=7.57±0.13‰AIR</text></g>
<g class="sr" font-size="4.5" fill="#111"><text x="897" y="1284">δ15N=4.21±0.13‰AIR</text></g>
<g class="sr" font-size="4.5" fill="#b030d0"><text x="897" y="1305">δ15N=0.43±0.15‰AIR</text></g>
<g class="sr" font-size="4.5" fill="#d02020"><text x="897" y="1320">δ15N=0.45±0.07‰AIR</text></g>
<g fill="#1c30d8"><circle cx="895" cy="1266" r="1.3"/><circle cx="906" cy="1265" r="1.3"/><circle cx="919" cy="1266" r="1.3"/><circle cx="932" cy="1266" r="1.3"/><circle cx="946" cy="1266" r="1.3"/><circle cx="877" cy="1272" r="1.3"/><circle cx="880" cy="1268" r="1.3"/></g>
<g fill="#d02020"><circle cx="875" cy="1320" r="1.3"/><circle cx="880" cy="1316" r="1.3"/><circle cx="885" cy="1313" r="1.3"/><circle cx="920" cy="1313" r="1.3"/><circle cx="940" cy="1313" r="1.3"/></g>
<g fill="#b030d0"><circle cx="878" cy="1312" r="1.3"/><circle cx="884" cy="1308" r="1.3"/><circle cx="905" cy="1309" r="1.3"/><circle cx="935" cy="1308" r="1.3"/><circle cx="955" cy="1309" r="1.3"/></g>
<g class="sr" font-size="5.5"><text x="973" y="1270" fill="#d02020">▲ IAEA-N-1</text><text x="973" y="1281" fill="#1c30d8">◆ Caltech</text><text x="973" y="1292" fill="#b030d0">■ IAEA-N-2</text><text x="973" y="1303" fill="#111">+ 661</text><text x="985" y="1314" fill="#1c30d8">Accepted value</text></g>
<line x1="877" y1="1330" x2="872" y2="1345" stroke="#d02020" stroke-dasharray="2 1.5" stroke-width="0.8"/>
<text x="904" y="1339" class="sr" font-size="5.5" fill="#111">N (nmol)</text>
<text x="827" y="1346" class="cj" font-size="12.5" fill="#111">测定值</text>
<text x="963" y="1346" class="cj" font-size="12.5" fill="#111">空白校正值</text>
<g stroke="#000" stroke-width="1" fill="none"><path d="M828,1348 V1432 H917 V1348"/><path d="M938,1348 V1432 H1027"/></g>
<g stroke-width="0.8" stroke-dasharray="2 1.5">
<line x1="828" y1="1365" x2="917" y2="1365" stroke="#1c30d8"/><line x1="828" y1="1388" x2="917" y2="1388" stroke="#111"/><line x1="828" y1="1414" x2="917" y2="1414" stroke="#d02020"/>
<line x1="938" y1="1364" x2="1027" y2="1364" stroke="#1c30d8"/><line x1="938" y1="1387" x2="1027" y2="1387" stroke="#111"/><line x1="938" y1="1410" x2="1027" y2="1410" stroke="#b030d0"/><line x1="938" y1="1413" x2="1027" y2="1413" stroke="#d02020"/>
</g>
<g fill="#1c30d8"><circle cx="846" cy="1374" r="1.3"/><circle cx="859" cy="1375" r="1.3"/><circle cx="873" cy="1370" r="1.3"/><circle cx="878" cy="1371" r="1.3"/><circle cx="887" cy="1369" r="1.3"/><circle cx="955" cy="1362" r="1.3"/><circle cx="968" cy="1366" r="1.3"/><circle cx="982" cy="1364" r="1.3"/><circle cx="998" cy="1363" r="1.3"/></g>
<g fill="#d02020"><circle cx="840" cy="1424" r="1.3"/><circle cx="846" cy="1423" r="1.3"/><circle cx="853" cy="1420" r="1.3"/><circle cx="862" cy="1416" r="1.3"/><circle cx="874" cy="1417" r="1.3"/><circle cx="882" cy="1416" r="1.3"/><circle cx="955" cy="1416" r="1.3"/><circle cx="965" cy="1416" r="1.3"/><circle cx="985" cy="1413" r="1.3"/></g>
<g fill="#b030d0"><circle cx="843" cy="1418" r="1.3"/><circle cx="872" cy="1413" r="1.3"/><circle cx="885" cy="1411" r="1.3"/><circle cx="897" cy="1411" r="1.3"/><circle cx="950" cy="1411" r="1.3"/><circle cx="972" cy="1410" r="1.3"/><circle cx="990" cy="1410" r="1.3"/></g>
<g fill="#111" class="sr" font-size="6"><text x="838" y="1404">+</text><text x="847" y="1399">+</text><text x="858" y="1395">+</text><text x="866" y="1393">+</text><text x="888" y="1391">+</text><text x="947" y="1390">+</text><text x="964" y="1390">+</text><text x="975" y="1389">+</text></g>
<g class="sr" font-size="5" fill="#111" text-anchor="middle"><text x="828" y="1440">0</text><text x="858" y="1440">50</text><text x="887" y="1440">100</text><text x="917" y="1440">150</text><text x="938" y="1440">0</text><text x="967" y="1440">100</text><text x="996" y="1440">200</text><text x="1023" y="1440">300</text></g>
<text x="872" y="1447" class="sr" font-size="5.5" fill="#111" text-anchor="middle">N (nmol)</text>
<text x="984" y="1447" class="sr" font-size="5.5" fill="#111" text-anchor="middle">N (nmol)</text>
<text x="929" y="1473" class="cj bl" font-size="14.5" text-anchor="middle" textLength="298">利用微量氮同位素分析系统测定标准样品的结果</text>

<!-- ===== FOOTER ===== -->
<rect x="45" y="1529" width="1109" height="3" fill="#0c0c60"/>
<text x="57" y="1555" font-family="Liberation Serif, serif" font-size="8" fill="#333" textLength="1078" lengthAdjust="spacingAndGlyphs">Cui LL, Wang X, Feng LJ. 2019. Determination of nitrogen isotopes on samples with tens of nmol of N using the combination of an elemental analyzer, a GasBench interface and an isotope ratio mass spectrometer: An evaluation of blank N contributions and blank correction. Rapid communications in Mass Spectrometry, 33(1):82-90.</text>
</svg>
</body></html>
